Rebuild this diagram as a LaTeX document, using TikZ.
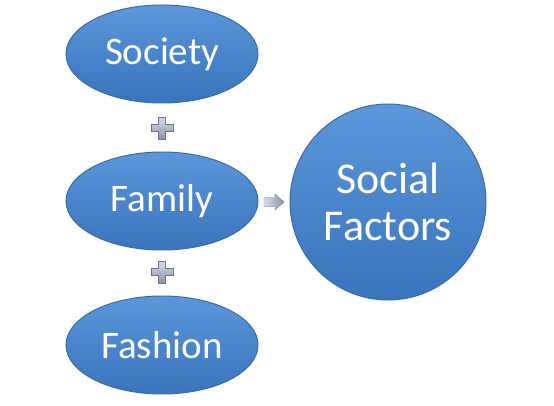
\documentclass[tikz,border=0pt]{standalone}
\usepackage{fontspec}
\setmainfont{Carlito}
\usetikzlibrary{shapes.geometric}
\definecolor{btop}{HTML}{5B97DA}
\definecolor{bbot}{HTML}{3A74BC}
\definecolor{bedge}{HTML}{3A6AA8}
\definecolor{gtop}{HTML}{D7DCE6}
\definecolor{gbot}{HTML}{8A93A8}
\tikzset{
  oval/.style={ellipse, minimum width=192pt, minimum height=98pt, top color=btop, bottom color=bbot, draw=bedge, line width=1pt, text=white, font=\fontsize{39}{44}\selectfont, inner sep=0pt},
  bigcircle/.style={circle, minimum size=196pt, top color=btop, bottom color=bbot, draw=bedge, line width=1pt, text=white, font=\fontsize{44}{47}\selectfont, align=center, inner sep=0pt},
  plusshape/.style={top color=gtop, bottom color=gbot, draw=gbot!80!black, line width=0.3pt},
  arrowshape/.style={left color=gtop, right color=gbot, draw=gbot!80!black, line width=0.3pt}
}
\begin{document}
\begin{tikzpicture}[x=1pt,y=1pt]
\useasboundingbox[fill=white] (0,0) rectangle (554,405);
\node[oval] (society) at (162,351) {Society};
\node[oval] (family) at (162,204) {Family};
\node[oval] (fashion) at (162,60) {Fashion};
\node[bigcircle] (social) at (388,203) {Social\\Factors};
\foreach \cy in {277,133}{
  \begin{scope}[shift={(162,\cy)}]
  \path[plusshape]
    (-3.5,-11) -- ++(7,0) -- ++(0,7.5) -- ++(7.5,0) -- ++(0,7) -- ++(-7.5,0) -- ++(0,7.5) -- ++(-7,0) -- ++(0,-7.5) -- ++(-7.5,0) -- ++(0,-7) -- ++(7.5,0) -- cycle;
  \end{scope}
}
\begin{scope}[shift={(274,203)}]
  \path[arrowshape] (-10,-4.5) -- (1,-4.5) -- (1,-8) -- (10,0) -- (1,8) -- (1,4.5) -- (-10,4.5) -- cycle;
\end{scope}
\end{tikzpicture}
\end{document}
